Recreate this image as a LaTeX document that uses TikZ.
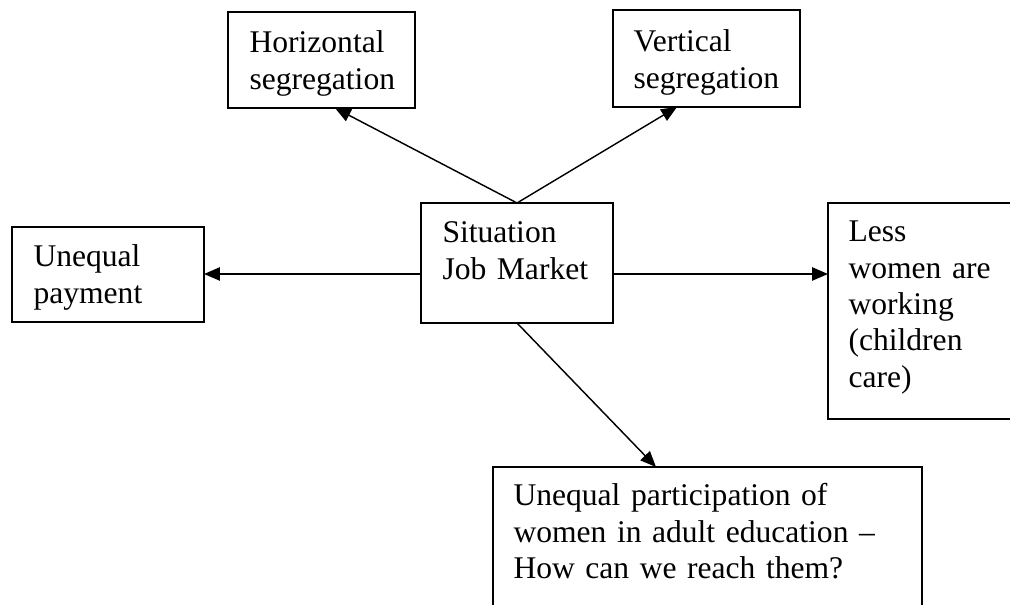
\documentclass[tikz,border=0pt]{standalone}
\usepackage{fontspec}
\setmainfont{Liberation Serif}
\usetikzlibrary{arrows.meta,calc}
\begin{document}
\begin{tikzpicture}[x=0.38pt,y=-0.38pt,
  box/.style 2 args={draw,line width=0.8pt,inner sep=0pt,outer sep=0pt,anchor=north west,
    minimum width=#1*0.38pt,minimum height=#2*0.38pt},
  lbl/.style={anchor=base west,inner sep=0pt,align=left,text width=8cm,
    font=\fontsize{12}{13.8}\selectfont},
  arr/.style={-{Triangle[length=6pt,width=5pt]},line width=0.55pt}]
\clip (0,0) rectangle (1010,605);
% boxes
\node[box={187}{96}] (hseg) at (228,12) {};
\node[box={187}{97}] (vseg) at (613,10) {};
\node[box={192}{120}] (sit) at (421,203) {};
\node[box={192}{95}] (pay) at (12,227) {};
\node[box={220}{216}] (less) at (828,203) {};
\node[box={429}{180}] (part) at (493,467) {};
% texts
\node[lbl] (thseg) at (249,53) {Horizontal\\segregation};
\node[lbl] (tvseg) at (633,52) {Vertical\\segregation};
\node[lbl] (tsit) at (442,243) {Situation\\Job Market};
\node[lbl] (tpay) at (33,267) {Unequal\\payment};
\node[lbl] (tless) at (848,242) {Less\\women are\\working\\(children\\care)};
\node[lbl] (tpart) at (513,506) {Unequal participation of\\women in adult education --\\How can we reach them?};
% connectors
\draw[arr] (sit.north) -- ($(hseg.south)+(13.5,0)$);
\draw[arr] (sit.north) -- ($(vseg.south)+(-29.5,0)$);
\draw[arr] ($(sit.west)+(0,11)$) coordinate (l0) -- (l0 -| pay.east);
\draw[arr] ($(sit.east)+(0,11)$) coordinate (r0) -- (r0 -| less.west);
\draw[arr] (sit.south) -- ($(part.north west)+(163,0)$);
\end{tikzpicture}
\end{document}
